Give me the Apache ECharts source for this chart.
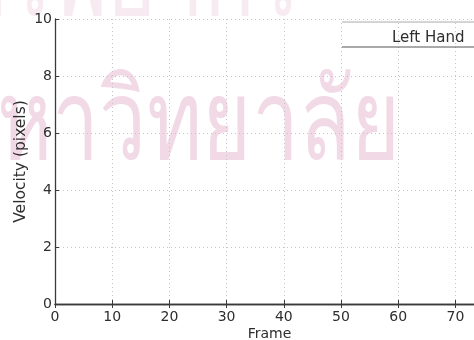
<!DOCTYPE html>
<html>
<head>
<meta charset="utf-8">
<script src="https://cdn.jsdelivr.net/npm/echarts@6/dist/echarts.min.js"></script>
<style>
html,body{margin:0;padding:0;background:#fff;}
#c{width:474px;height:340px;}
</style>
</head>
<body>
<div id="c"></div>
<script>
// Data (no visible samples of the Left Hand series in the shown window)
const seriesNames = ['Left Hand'];
const frames = [];
const leftHandVelocity = [];
const xTicks = [0, 10, 20, 30, 40, 50, 60, 70];
const xMax = 75;
const yTicks = [0, 2, 4, 6, 8, 10];
const watermarkTop = 'ศูนย์วิทยทรัพยากร';
const watermarkBottom = 'จุฬาลงกรณ์มหาวิทยาลัย';

const chart = echarts.init(document.getElementById('c'), null, {renderer: 'canvas'});
const font = 'DejaVu Sans, Verdana, sans-serif';
const txt = '#2e2e2e';
const axisCol = '#3a3a3a';
const gridLine = {show: true, lineStyle: {color: '#c4c4c4', type: [1, 3], width: 1}};

chart.setOption({
  backgroundColor: '#ffffff',
  animation: false,
  graphic: [
    {type: 'text', x: 300, y: -72, scaleX: 0.75, z: -10, silent: true,
     style: {text: watermarkTop, font: '112px sans-serif', fill: '#f7ebf1', textAlign: 'right', textVerticalAlign: 'top'}},
    {type: 'text', x: 400, y: 72, scaleX: 0.75, z: -10, silent: true,
     style: {text: watermarkBottom, font: '112px sans-serif', fill: '#f1dae6', textAlign: 'right', textVerticalAlign: 'top'}},
    {type: 'line', z: 10, silent: true,
     shape: {x1: 342, y1: 47, x2: 474, y2: 47},
     style: {stroke: '#555', lineWidth: 1}},
    {type: 'line', z: 10, silent: true,
     shape: {x1: 342, y1: 22, x2: 474, y2: 22},
     style: {stroke: '#aaa', lineWidth: 1}}
  ],
  legend: {
    data: seriesNames,
    left: 381, top: 26,
    itemWidth: 0, itemHeight: 0, itemGap: 0,
    textStyle: {fontFamily: font, fontSize: 15, color: txt},
    selectedMode: false
  },
  grid: {left: 55, top: 19, right: -10, bottom: 36, containLabel: false, outerBoundsMode: 'none'},
  xAxis: [{
    type: 'value', min: 0, max: xMax, interval: 10,
    position: 'bottom',
    name: 'Frame', nameLocation: 'middle', nameGap: 23, nameMoveOverlap: false,
    nameTextStyle: {fontFamily: font, fontSize: 14, color: txt},
    axisLine: {show: true, onZero: false, lineStyle: {color: axisCol, width: 1.3}},
    axisTick: {show: true, inside: true, length: 4, lineStyle: {color: axisCol}},
    axisLabel: {fontFamily: font, fontSize: 14, color: txt, margin: 6,
      formatter: v => xTicks.includes(v) ? String(v) : ''},
    splitLine: gridLine
  }, {
    type: 'value', min: 0, max: xMax, interval: 10,
    position: 'top',
    axisLine: {show: true, lineStyle: {color: axisCol, width: 1.3}},
    axisTick: {show: true, inside: true, length: 4, lineStyle: {color: axisCol}},
    axisLabel: {show: false},
    splitLine: {show: false}
  }],
  yAxis: {
    type: 'value', min: yTicks[0], max: yTicks[yTicks.length - 1], interval: 2,
    name: 'Velocity (pixels)', nameLocation: 'middle', nameGap: 26, nameMoveOverlap: false,
    nameTextStyle: {fontFamily: font, fontSize: 15.5, color: txt},
    axisLine: {show: true, lineStyle: {color: axisCol, width: 1.3}},
    axisTick: {show: true, inside: true, length: 4, lineStyle: {color: axisCol}},
    axisLabel: {fontFamily: font, fontSize: 14, color: txt, margin: 3},
    splitLine: gridLine
  },
  series: [{
    name: seriesNames[0],
    type: 'line',
    data: frames.map((f, i) => [f, leftHandVelocity[i]]),
    showSymbol: false,
    lineStyle: {color: '#333', width: 1},
    itemStyle: {color: '#333'}
  }]
});
</script>
</body>
</html>
